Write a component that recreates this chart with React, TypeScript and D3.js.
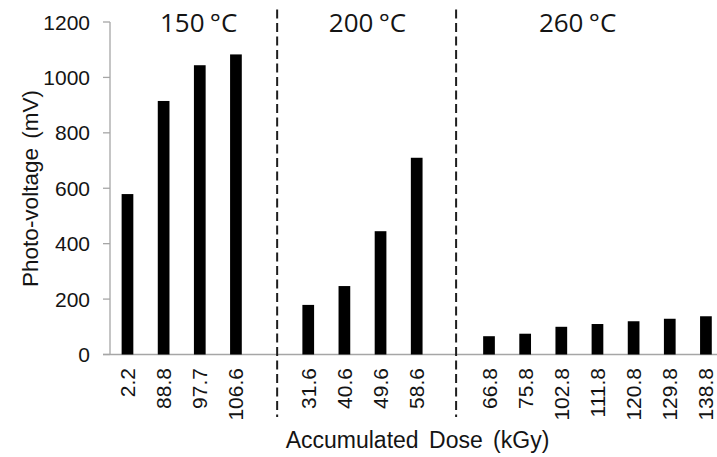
import React from "react";
import * as d3 from "d3";

// slot layout: 4 bars, gap, 4 bars, gap, 7 bars
const doseLabels = [
  "2.2", "88.8", "97.7", "106.6",
  "31.6", "40.6", "49.6", "58.6",
  "66.8", "75.8", "102.8", "111.8", "120.8", "129.8", "138.8",
];
const photoVoltage = [
  579, 915, 1044, 1083,
  179, 247, 445, 710,
  66, 75, 100, 110, 120, 129, 138,
];
const slotIndex = [0, 1, 2, 3, 5, 6, 7, 8, 10, 11, 12, 13, 14, 15, 16];
const groupTitles = ["150 °C", "200 °C", "260 °C"];
const titleSlots = [1.97, 6.64, 12.45];
const dividerSlots = [4.14, 9.09];
const yTicks = [0, 200, 400, 600, 800, 1000, 1200];

const width = 717;
const height = 457;
const axisColor = "#a6a6a6";
const textColor = "#141414";
const sans = "'Liberation Sans', Arial, sans-serif";

export default function App() {
  const x = d3.scaleLinear().domain([-0.5, 16.5]).range([109.4, 724]);
  const step = x(1) - x(0);
  const barW = step * 0.324;
  const y = d3.scaleLinear().domain([0, 1200]).range([354.5, 22]);

  return (
    <svg
      width={width}
      height={height}
      style={{ position: "absolute", left: 0, top: 0, background: "#fff" }}
    >
      {/* y axis */}
      <line x1={110} x2={110} y1={y(1200)} y2={y(0)} stroke={axisColor} strokeWidth={1.3} />
      {yTicks.map((t) => (
        <g key={t}>
          <line x1={103} x2={110} y1={y(t)} y2={y(t)} stroke={axisColor} strokeWidth={1.3} />
          <text
            x={90}
            y={y(t)}
            dy="0.36em"
            textAnchor="end"
            fontFamily={sans}
            fontSize={21}
            fill={textColor}
          >
            {t}
          </text>
        </g>
      ))}
      {/* x axis */}
      <line x1={103} x2={width} y1={y(0)} y2={y(0)} stroke={axisColor} strokeWidth={1.3} />

      {/* bars */}
      {photoVoltage.map((v, i) => (
        <rect
          key={i}
          x={x(slotIndex[i]) - barW / 2}
          y={y(v)}
          width={barW}
          height={y(0) - y(v)}
          fill="#000"
        />
      ))}

      {/* x tick labels */}
      {doseLabels.map((d, i) => (
        <text
          key={d}
          transform={`translate(${x(slotIndex[i])},368) rotate(-90)`}
          dy="0.36em"
          textAnchor="end"
          fontFamily={sans}
          fontSize={21}
          fill={textColor}
        >
          {d}
        </text>
      ))}

      {/* group dividers */}
      {dividerSlots.map((s) => (
        <line
          key={s}
          x1={x(s)}
          x2={x(s)}
          y1={9.5}
          y2={417}
          stroke="#1e1e1e"
          strokeWidth={2}
          strokeDasharray="9,4.5"
        />
      ))}

      {/* group titles */}
      {groupTitles.map((g, i) => (
        <text
          key={g}
          x={x(titleSlots[i])}
          y={32.3}
          textAnchor="middle"
          fontFamily="'Open Sans', sans-serif"
          fontSize={26}
          wordSpacing={-1.5}
          fill={textColor}
        >
          {g}
        </text>
      ))}

      {/* axis titles */}
      <text
        transform="translate(37.5,188.5) rotate(-90)"
        textAnchor="middle"
        fontFamily={sans}
        fontSize={22.5}
        wordSpacing={3}
        fill={textColor}
      >
        Photo-voltage (mV)
      </text>
      <text
        x={417.5}
        y={448}
        textAnchor="middle"
        fontFamily={sans}
        fontSize={23}
        wordSpacing={4}
        fill={textColor}
      >
        Accumulated Dose (kGy)
      </text>
    </svg>
  );
}
